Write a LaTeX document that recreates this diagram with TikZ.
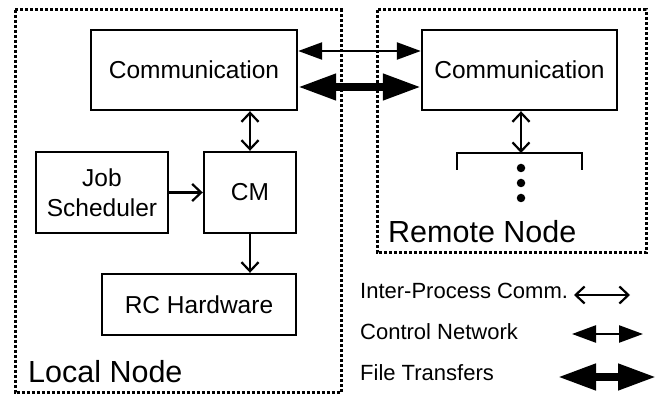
\documentclass[tikz,border=0pt]{standalone}
\usepackage{fontspec}
\setmainfont{Liberation Sans}
\usetikzlibrary{arrows.meta}

\tikzset{
  barb/.tip={Straight Barb[length=9pt,width=17pt,line width=2.2pt]},
  ctrltip/.tip={Triangle[length=24pt,width=17pt]},
  filetip/.tip={Triangle[length=38pt,width=25pt]},
  blockbox/.style={draw, line width=2.4pt, inner sep=0pt, align=center,
    font=\fontsize{24.5}{30}\selectfont},
  regionbox/.style={draw, line width=3pt, dash pattern=on 3.3pt off 1.7pt},
  regionlabel/.style={anchor=base west, inner sep=0pt, font=\fontsize{30.5}{36}\selectfont},
  legendtext/.style={anchor=base west, inner sep=0pt, font=\fontsize{22}{26}\selectfont},
  ipc/.style={line width=2.2pt, barb-barb},
  onedir/.style={line width=2.2pt, -barb},
  ctrl/.style={line width=2.4pt, ctrltip-ctrltip},
  filexfer/.style={line width=7.5pt, filetip-filetip},
  dot/.style={fill, circle, inner sep=0pt, minimum size=8.5pt},
}

\begin{document}
\begin{tikzpicture}[x=1pt, y=-1pt]
  \useasboundingbox (0,0) rectangle (657,398);

  % node regions
  \draw[regionbox] (15,10) rectangle (341,393);
  \draw[regionbox] (377,10) rectangle (646,253);
  \node[regionlabel] (localname) at (28,383) {Local Node};
  \node[regionlabel] (remotename) at (388,243) {Remote Node};

  % local node blocks
  \node[blockbox, minimum width=206pt, minimum height=80pt] (lcomm) at (194,70) {Communication};
  \node[blockbox, minimum width=132pt, minimum height=81pt] (job) at (102,192.5) {Job\\Scheduler};
  \node[blockbox, minimum width=92pt, minimum height=81pt] (cm) at (250,192.5) {CM};
  \node[blockbox, minimum width=194pt, minimum height=61pt] (rc) at (199,304.5) {RC Hardware};

  % remote node blocks
  \node[blockbox, minimum width=195pt, minimum height=80pt] (rcomm) at (519.5,70) {Communication};
  \coordinate (fan) at (521,153);
  \draw[line width=2.4pt] (457,170) -- (457,153) -- (582,153) -- (582,170);
  \node[dot] (d1) at (521,168) {};
  \node[dot] (d2) at (521,183) {};
  \node[dot] (d3) at (521,198) {};

  % links inside the local node
  \draw[ipc] (cm.north) -- (cm.north |- lcomm.south);
  \draw[onedir] (job.east) -- (cm.west);
  \draw[onedir] (cm.south) -- (cm.south |- rc.north);

  % link inside the remote node
  \draw[ipc] (rcomm.south -| fan) -- (fan);

  % links between the nodes
  \draw[ctrl] ([yshift=19pt]lcomm.east) -- ([yshift=19pt]rcomm.west);
  \draw[filexfer] ([yshift=-17pt]lcomm.east) -- ([yshift=-17pt]rcomm.west);

  % legend
  \node[legendtext] (lgipc) at (360,299) {Inter-Process Comm.};
  \node[legendtext] (lgctrl) at (360,340) {Control Network};
  \node[legendtext] (lgfile) at (360,381) {File Transfers};
  \coordinate (ipcA) at (574,295);
  \coordinate (ipcB) at (630,295);
  \coordinate (ctrlA) at (572,334);
  \coordinate (ctrlB) at (643,334);
  \coordinate (fileA) at (558,377);
  \coordinate (fileB) at (656,377);
  \draw[ipc] (ipcA) -- (ipcB);
  \draw[ctrl] (ctrlA) -- (ctrlB);
  \draw[filexfer] (fileA) -- (fileB);
\end{tikzpicture}
\end{document}
